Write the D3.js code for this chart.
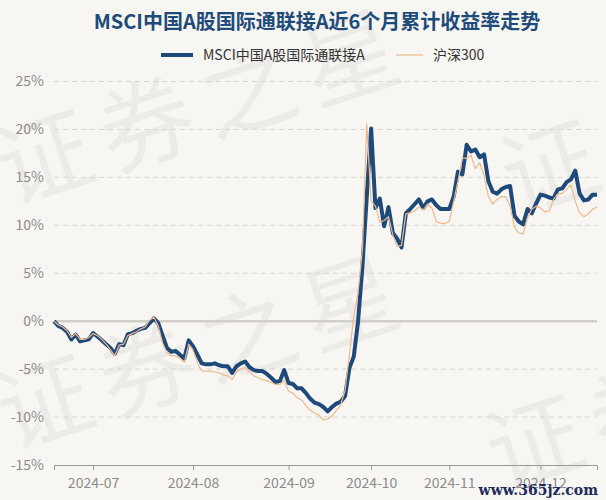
<!DOCTYPE html>
<html><head><meta charset="utf-8">
<script src="https://cdn.jsdelivr.net/npm/d3@7"></script>
<style>
html,body{margin:0;padding:0;background:#f8f6f2;}
svg{display:block;}
</style></head>
<body><div id="chart"></div>
<script>
const title = "MSCI中国A股国际通联接A近6个月累计收益率走势";
const seriesNames = ["MSCI中国A股国际通联接A", "沪深300"];
const fundReturn = [0,-0.5,-0.7,-1.1,-1.9,-1.4,-2.1,-2.0,-1.9,-1.25,-1.6,-2.0,-2.4,-2.8,-3.4,-2.4,-2.5,-1.35,-1.25,-1.0,-0.8,-0.7,-0.2,0.3,-0.2,-1.5,-2.8,-3.2,-3.1,-3.5,-3.9,-2.0,-2.6,-3.5,-4.4,-4.5,-4.5,-4.4,-4.6,-4.7,-4.7,-5.4,-4.7,-4.4,-4.2,-4.8,-5.1,-5.2,-5.2,-5.5,-5.9,-6.35,-6.25,-5.1,-6.45,-6.55,-7.0,-7.0,-7.5,-8.1,-8.5,-8.65,-8.95,-9.4,-8.95,-8.6,-8.4,-7.8,-4.9,-3.7,0.0,5.7,13.0,20.1,11.8,12.8,9.9,11.9,9.2,8.6,7.7,11.25,11.7,12.2,12.7,11.8,12.5,12.7,12.1,11.7,11.7,11.7,13.0,15.6,15.3,18.4,17.7,17.9,17.1,17.4,14.6,13.5,13.3,13.75,14.0,14.1,11.0,10.4,10.1,11.7,11.25,12.3,13.2,13.1,12.9,12.8,13.75,13.85,14.5,14.8,15.7,13.3,12.6,12.7,13.2,13.2];
const hs300Return = [0,-0.4,-0.6,-1.0,-1.7,-1.3,-1.9,-1.9,-1.7,-1.3,-1.5,-1.9,-2.4,-3.0,-3.6,-2.5,-2.4,-1.5,-1.3,-1.1,-0.8,-0.6,0.1,0.4,-0.5,-2.3,-3.3,-3.6,-3.6,-3.9,-4.3,-2.4,-3.0,-4.3,-5.2,-5.2,-5.2,-5.3,-5.4,-5.6,-5.7,-6.1,-5.3,-5.0,-4.8,-5.3,-5.7,-5.9,-6.1,-6.2,-6.4,-6.6,-6.6,-6.2,-7.3,-7.5,-8.0,-8.2,-8.8,-9.3,-9.6,-9.8,-10.3,-10.2,-9.9,-9.3,-8.7,-7.2,-3.5,0.5,3.0,7.5,20.6,12.5,12.0,10.3,10.5,10.9,9.0,7.8,7.9,11.2,11.3,11.5,11.9,11.6,12.2,11.8,10.4,10.2,10.2,10.4,12.5,14.6,17.0,17.0,17.3,15.9,16.5,15.2,13.0,12.2,12.7,13.0,13.0,12.0,9.8,9.2,9.1,10.8,11.7,12.0,11.8,11.4,11.5,12.7,13.3,13.3,13.8,14.2,12.5,11.3,10.9,11.2,11.7,11.9];
const xTickIndex = [9, 32, 54, 73, 91, 112];
const xTickLabels = ["2024-07", "2024-08", "2024-09", "2024-10", "2024-11", "2024-12"];
const yTicks = [-15, -10, -5, 0, 5, 10, 15, 20, 25];

(function () {
const W = 606, H = 500;
const pLeft = 54, pRight = 597, pTop = 81.5, pBottom = 465;
const blue = "#1e4a7b", orange = "#efb98c";

const svg = d3.select("#chart").append("svg").attr("width", W).attr("height", H);
svg.append("rect").attr("width", W).attr("height", H).attr("fill", "#f8f6f2");

// background watermark
const wm = svg.append("g").attr("fill", "#000").attr("fill-opacity", 0.045)
  .style("font-family", "'Noto Sans CJK SC'").style("font-size", "95px");
[[10, 205], [10, 450], [515, 215], [500, 490]].forEach(([x, y]) => {
  wm.append("text").attr("x", x).attr("y", y).attr("letter-spacing", "12px")
    .attr("transform", `rotate(-18,${x},${y})`).text("证券之星");
});

const x = d3.scaleLinear().domain([0, fundReturn.length - 1]).range([pLeft, pRight]);
const y = d3.scaleLinear().domain([-15, 25]).range([pBottom, pTop]);

// grid
svg.append("g").selectAll("line").data(yTicks.filter(d => d !== -15 && d !== 0)).join("line")
  .attr("x1", pLeft).attr("x2", pRight).attr("y1", d => y(d)).attr("y2", d => y(d))
  .attr("stroke", "#d9d6d1").attr("stroke-width", 1).attr("stroke-dasharray", "5,4");
svg.append("line").attr("x1", pLeft).attr("x2", pRight).attr("y1", y(0)).attr("y2", y(0))
  .attr("stroke", "#d2cfca").attr("stroke-width", 2.5);

// y labels
svg.append("g").selectAll("text").data(yTicks).join("text")
  .attr("x", 44).attr("y", d => y(d)).attr("dy", "0.35em").attr("text-anchor", "end")
  .attr("fill", "#8c8c8c").style("font-family", "'Noto Sans CJK SC'").style("font-size", "14px")
  .text(d => d + "%");

// x axis
const xAxis = d3.axisBottom(x).tickValues(xTickIndex)
  .tickFormat((d, i) => xTickLabels[i]).tickSizeOuter(0).tickSize(5).tickPadding(8);
const gx = svg.append("g").attr("transform", `translate(0,${pBottom})`).call(xAxis);
gx.select(".domain").attr("stroke", "#9a9a9a");
gx.selectAll(".tick line").attr("stroke", "#9a9a9a");
gx.selectAll(".tick text").attr("fill", "#8c8c8c")
  .style("font-family", "'Noto Sans CJK SC'").style("font-size", "14px");

// lines
const line = d3.line().x((d, i) => x(i)).y(d => y(d));
svg.append("path").datum(fundReturn).attr("d", line).attr("fill", "none")
  .attr("stroke", blue).attr("stroke-width", 4).attr("stroke-linejoin", "round");
svg.append("path").datum(hs300Return).attr("d", line).attr("fill", "none")
  .attr("stroke", orange).attr("stroke-width", 1.2).attr("stroke-linejoin", "round");

// title
svg.append("text").attr("x", 317).attr("y", 29).attr("text-anchor", "middle")
  .attr("fill", "#1f4b7b").style("font-family", "'Noto Sans CJK SC'")
  .style("font-size", "20px").style("font-weight", "bold").text(title);

// legend
const lg = svg.append("g").style("font-family", "'Noto Sans CJK SC'").style("font-size", "14px");
const ly = 55;
lg.append("line").attr("x1", 161).attr("x2", 193).attr("y1", ly).attr("y2", ly)
  .attr("stroke", blue).attr("stroke-width", 4);
lg.append("text").attr("x", 203).attr("y", ly).attr("dy", "0.35em").attr("fill", "#333").text(seriesNames[0]);
lg.append("line").attr("x1", 396).attr("x2", 423).attr("y1", ly).attr("y2", ly)
  .attr("stroke", orange).attr("stroke-width", 1.2);
lg.append("text").attr("x", 433).attr("y", ly).attr("dy", "0.35em").attr("fill", "#333").text(seriesNames[1]);

// site watermark
svg.append("text").attr("x", 598).attr("y", 495).attr("text-anchor", "end")
  .attr("fill", "#1b2b5c").style("font-family", "'DejaVu Serif'").style("font-weight", "bold")
  .style("font-size", "14px").text("www.365jz.com");
})();
</script></body></html>
